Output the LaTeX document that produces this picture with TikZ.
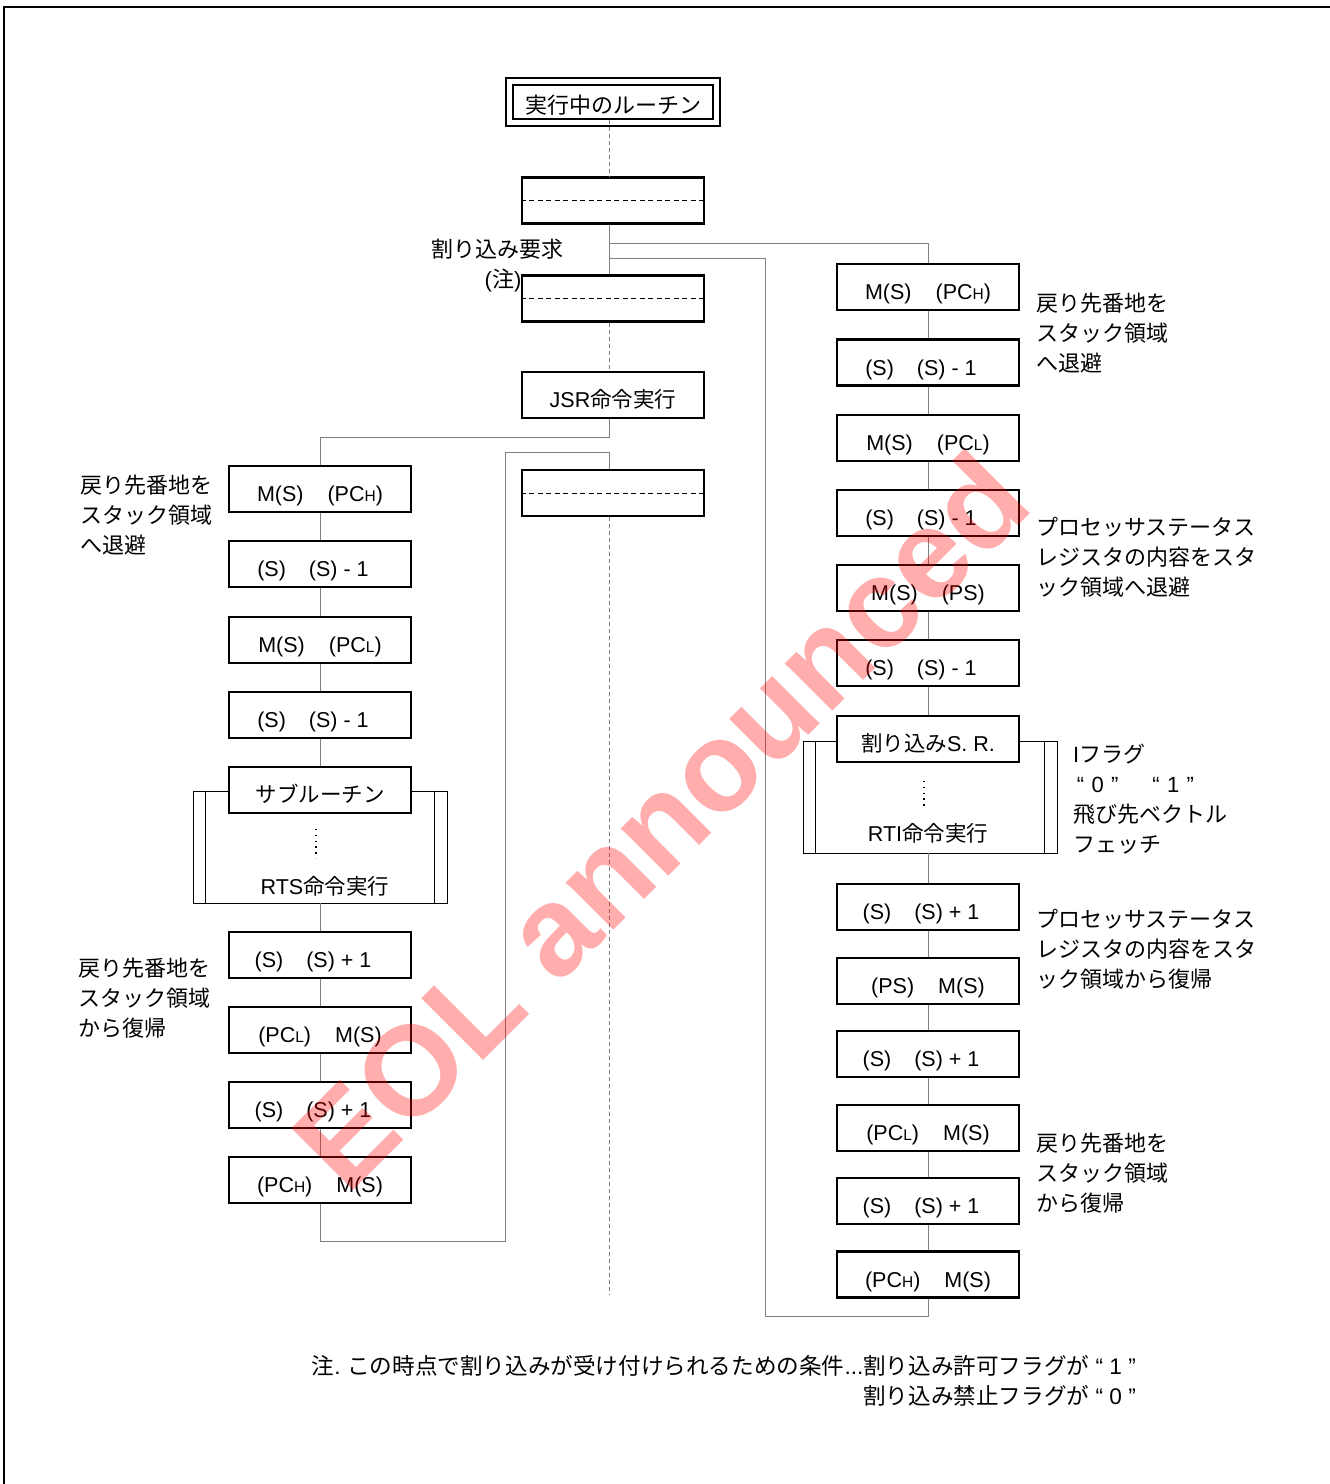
\documentclass[tikz,border=0pt]{standalone}
\usepackage{fontspec}
\setmainfont{Noto Sans CJK JP}
\newfontfamily\lat{Liberation Sans}
\usetikzlibrary{calc}
\newcommand\latt[1]{{\lat #1}}
\newcommand\mypch{(PC{\fontsize{15.5}{15}\selectfont H})}
\newcommand\mypcl{(PC{\fontsize{15.5}{15}\selectfont L})}
\newcommand\sdec{\latt{(S)\hspace{23pt}(S) - 1}\hspace{14pt}\null}
\newcommand\sinc{\latt{(S)\hspace{23pt}(S) + 1}\hspace{14pt}\null}
\begin{document}
\begin{tikzpicture}[x=1pt,y=-1pt,
 box/.style={draw,line width=2.2pt,fill=white,minimum width=182pt,minimum height=46pt,inner sep=0pt,
   font=\fontsize{21.5}{25}\selectfont,text height=27pt,text depth=2pt},
 conn/.style={draw=black!50,line width=1pt},
 dconn/.style={conn,dash pattern=on 4pt off 3pt},
 lab/.style={anchor=north west,align=left,inner sep=0pt,font=\fontsize{22}{30}\selectfont},
 frm/.style={draw,line width=0.9pt,minimum width=254pt,minimum height=112pt,inner sep=0pt},
 dots/.style={line width=1.3pt,dash pattern=on 1.3pt off 4.5pt}]
\useasboundingbox (0,0) rectangle (1330,1484);
\draw[line width=2.5pt] (4,1484) -- (4,7) -- (1330,7);

% frames
\node[frm] (f1) at (320,847) {};
\draw[line width=0.9pt] ([xshift=13pt]f1.north west) -- ([xshift=13pt]f1.south west);
\draw[line width=0.9pt] ([xshift=-13pt]f1.north east) -- ([xshift=-13pt]f1.south east);
\node[frm] (f2) at (930,797) {};
\draw[line width=0.9pt] ([xshift=13pt]f2.north west) -- ([xshift=13pt]f2.south west);
\draw[line width=0.9pt] ([xshift=-13pt]f2.north east) -- ([xshift=-13pt]f2.south east);

% spine coordinates
\coordinate (j1) at (609,243);
\coordinate (j2) at (609,258);
\coordinate (k2) at (765,1316);
\coordinate (j3) at (609,437);
\coordinate (k3) at (505,1241);
\coordinate (j4) at (609,452);
\coordinate (endc) at (609,1295);

% center column
\node[box,minimum width=200pt,minimum height=34pt,line width=1.8pt,text height=24pt,font=\fontsize{22}{25}\selectfont] (top) at (613,102) {実行中のルーチン};
\draw[line width=1.8pt] ([shift={(-6,-6)}]top.north west) rectangle ([shift={(6,6)}]top.south east);
\node[box] (b1) at (613,200.5) {};
\node[box] (b2) at (613,298.5) {};
\node[box] (jsr) at (613,395) {\latt{JSR}命令実行};
\node[box] (b3) at (613,493) {};
\foreach \b in {b1,b2,b3}{\draw[dash pattern=on 5pt off 3.5pt,line width=1pt] (\b.west) -- (\b.east);}

% left column
\node[box] (l1) at (320,489) {\latt{M(S)\hspace{24pt}\mypch}};
\node[box] (l2) at (320,564) {\sdec};
\node[box] (l3) at (320,640) {\latt{M(S)\hspace{24pt}\mypcl}};
\node[box] (l4) at (320,715) {\sdec};
\node[box] (l5) at (320,790) {サブルーチン};
\node[box] (l6) at (320,955) {\sinc};
\node[box] (l7) at (320,1030) {\latt{\mypcl\hspace{24pt}M(S)}};
\node[box] (l8) at (320,1105) {\sinc};
\node[box] (l9) at (320,1180) {\latt{\mypch\hspace{24pt}M(S)}};

% right column
\node[box] (r1) at (928,287) {\latt{M(S)\hspace{24pt}\mypch}};
\node[box] (r2) at (928,362.5) {\sdec};
\node[box] (r3) at (928,438) {\latt{M(S)\hspace{24pt}\mypcl}};
\node[box] (r4) at (928,513) {\sdec};
\node[box] (r5) at (928,588) {\latt{M(S)\hspace{24pt}(PS)}};
\node[box] (r6) at (928,663) {\sdec};
\node[box] (r7) at (928,739) {割り込み\latt{S. R.}};
\node[box] (r8) at (928,907) {\sinc};
\node[box] (r9) at (928,981) {\latt{(PS)\hspace{24pt}M(S)}};
\node[box] (r10) at (928,1054) {\sinc};
\node[box] (r11) at (928,1128) {\latt{\mypcl\hspace{24pt}M(S)}};
\node[box] (r12) at (928,1201) {\sinc};
\node[box] (r13) at (928,1274.5) {\latt{\mypch\hspace{24pt}M(S)}};

% connectors
\draw[dconn] (top.south -| j1) -- (b1.north -| j1);
\draw[conn] (b1.south -| j1) -- (b2.north -| j1);
\draw[dconn] (b2.south -| j1) -- (jsr.north -| j1);
\draw[conn] (j1) -| (r1.north);
\draw[conn] (j2) -| (k2) -| (r13.south);
\draw[conn] (jsr.south -| j3) -- (j3) -| (l1.north);
\draw[conn] (l9.south) |- (k3) |- (j4) -- (b3.north -| j4);
\draw[dconn] (b3.south -| endc) -- (endc);
\foreach \a/\b in {l1/l2,l2/l3,l3/l4,l4/l5,l6/l7,l7/l8,l8/l9,
  r1/r2,r2/r3,r3/r4,r4/r5,r5/r6,r6/r7,r8/r9,r9/r10,r10/r11,r11/r12,r12/r13}{
  \draw[conn] (\a.south) -- (\b.north);}
\draw[conn] (f1.south) -- (l6.north);
\draw[conn] (f2.south -| r8) -- (r8.north);

% frame contents
\draw[dots] (316,829) -- (316,858);
\node[font=\fontsize{21.5}{25}\selectfont,anchor=base] (rts) at (325,894) {\latt{RTS}命令実行};
\draw[dots] (924,781) -- (924,806);
\node[font=\fontsize{21.5}{25}\selectfont,anchor=base] (rti) at (928,841) {\latt{RTI}命令実行};

% labels
\node[font=\fontsize{22}{26}\selectfont,anchor=base,inner sep=0pt] (irq) at (497,257) {割り込み要求};
\node[font=\fontsize{22}{26}\selectfont,anchor=base,inner sep=0pt] (note) at (503,287) {\latt{(}注\latt{)}};
\node[lab] (tl1) at (80,475) {戻り先番地を\\スタック領域\\へ退避};
\node[lab] (tl2) at (78,958) {戻り先番地を\\スタック領域\\から復帰};
\node[lab] (tr1) at (1036,293) {戻り先番地を\\スタック領域\\へ退避};
\node[lab] (tr2) at (1036,517) {プロセッサステータス\\レジスタの内容をスタ\\ック領域へ退避};
\node[lab] (tr3) at (1073,744) {\latt{I}フラグ\\\latt{\,“\,\,0\,\,”}\hspace{34pt}\latt{“\,\,1\,\,”}\\飛び先ベクトル\\フェッチ};
\node[lab] (tr4) at (1036,909) {プロセッサステータス\\レジスタの内容をスタ\\ック領域から復帰};
\node[lab] (tr5) at (1036,1133) {戻り先番地を\\スタック領域\\から復帰};

% footnote
\node[font=\fontsize{22.6}{26}\selectfont,anchor=base east,inner sep=0pt] (fn1) at (1136,1374) {注\latt{.} この時点で割り込みが受け付けられるための条件\latt{...}割り込み許可フラグが\latt{ “ 1 ”}};
\node[font=\fontsize{22.6}{26}\selectfont,anchor=base east,inner sep=0pt] (fn2) at (1136,1404) {割り込み禁止フラグが\latt{ “ 0 ”}};

% watermark
\node[rotate=45,text=red,opacity=0.32,font=\lat\bfseries\fontsize{127}{127}\selectfont] (wm) at (660,820) {EOL announced};
\end{tikzpicture}
\end{document}
